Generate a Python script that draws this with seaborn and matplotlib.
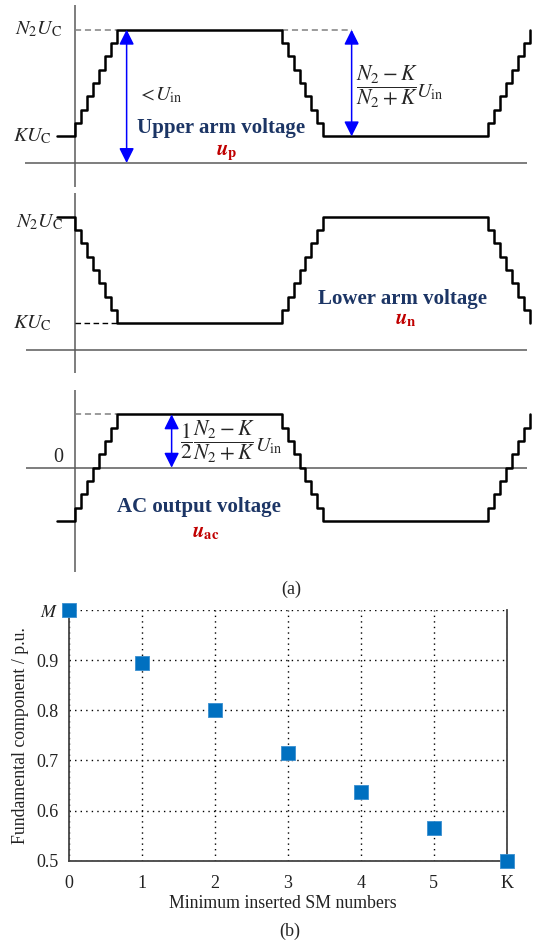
import matplotlib
matplotlib.use("Agg")
import matplotlib.pyplot as plt
import seaborn as sns
import pandas as pd

# ---------------- (a) staircase arm / output voltages ----------------
# switching instants (electrical degrees)
t_sw = [-15.7, 0, 5.2, 10.4, 15.6, 20.7, 25.9, 31.1, 36.3,
        180, 185.2, 190.4, 195.6, 200.7, 205.9, 211.1, 216.3,
        360, 365.2, 370.4, 375.6, 380.7, 385.9, 391.1, 396.3]
# number of inserted SMs above the minimum K
upper_steps = [0, 1, 2, 3, 4, 5, 6, 7, 8, 7, 6, 5, 4, 3, 2, 1, 0, 1, 2, 3, 4, 5, 6, 7, 8]
lower_steps = [8, 7, 6, 5, 4, 3, 2, 1, 0, 1, 2, 3, 4, 5, 6, 7, 8, 7, 6, 5, 4, 3, 2, 1, 0]
ac_steps = [-4, -3, -2, -1, 0, 1, 2, 3, 4, 3, 2, 1, 0, -1, -2, -3, -4, -3, -2, -1, 0, 1, 2, 3, 4]
K_level = 2      # K*U_C in SM-voltage units
N2_level = 10    # N2*U_C in SM-voltage units

# ---------------- (b) fundamental component ----------------
sm_min = [0, 1, 2, 3, 4, 5, 6]
sm_labels = ["0", "1", "2", "3", "4", "5", "K"]
fundamental = [1.0, 0.895, 0.80, 0.715, 0.637, 0.565, 0.5]
y_ticks = [0.5, 0.6, 0.7, 0.8, 0.9, 1.0]
y_labels = ["0.5", "0.6", "0.7", "0.8", "0.9", "$M$"]

sns.set_theme(style="white")
plt.rcParams["font.family"] = ["Liberation Serif", "DejaVu Serif"]
plt.rcParams["mathtext.fontset"] = "stix"

W, H = 536, 946
fig = plt.figure(figsize=(W / 100, H / 100), dpi=100)

NAVY = "#1C3565"
RED = "#C00000"
AXC = "#5a5a5a"
XL = (-65.3, 401.6)

upper_v = [K_level + s for s in upper_steps]
lower_v = [K_level + s for s in lower_steps]
df = pd.DataFrame({"t": t_sw, "up": upper_v, "low": lower_v, "ac": ac_steps})


def panel(top_px, bot_px):
    ax = fig.add_axes([0, 1 - bot_px / H, 1, (bot_px - top_px) / H])
    return ax


def finish(ax, ylim):
    ax.set_xlim(*XL)
    ax.set_ylim(*ylim)
    ax.axis("off")


def arrow(ax, x, y0, y1):
    ax.annotate("", xy=(x, y0), xytext=(x, y1),
                arrowprops=dict(arrowstyle="<|-|>,head_length=0.6,head_width=0.3",
                                color="#0000FF", lw=1.1, mutation_scale=15,
                                shrinkA=0, shrinkB=0))


def sub_label(ax, x, y, main, sub, size=15):
    ax.text(x, y, r"$\mathbfit{%s}_{\mathbf{%s}}$" % (main, sub), color=RED,
            ha="center", va="center", fontsize=size)


lab_kw = dict(fontsize=14.5, ha="right", va="center")
FR = 15.5
BOLD = 15
UIN = r"$U_\mathrm{in}$"

# ---- panel 1: upper arm ----
ax1 = panel(0, 190)
YL1 = (-2.025, 12.23)
ax1.vlines(0, -1.8, 11.85, color=AXC, lw=1.1)
ax1.hlines(0, -43.6, 393.7, color=AXC, lw=1.1)
ax1.hlines(N2_level, 0, 36.3, color="#808080", lw=1.1, linestyles=(0, (4, 2.5)))
ax1.hlines(N2_level, 180, 241, color="#808080", lw=1.1, linestyles=(0, (4, 2.5)))
sns.lineplot(data=df, x="t", y="up", drawstyle="steps-post", color="black", lw=1.8,
             estimator=None, sort=False, ax=ax1, legend=False)
finish(ax1, YL1)
arrow(ax1, 45, 0, N2_level)
arrow(ax1, 241, K_level, N2_level)
ax1.text(-11.3, N2_level, r"$N_2U_\mathrm{C}$", **lab_kw)
ax1.text(-20.0, K_level, r"$KU_\mathrm{C}$", **lab_kw)
ax1.text(54.5, 5.1, r"$<\!U_\mathrm{in}$", fontsize=14.5, ha="left", va="center")
ax1.text(244.5, 5.75, r"$\dfrac{N_2-K}{N_2+K}$", fontsize=FR, ha="left", va="center")
ax1.text(297.5, 5.3, UIN, fontsize=14.5, ha="left", va="center")
ax1.text(127.6, 2.63, "Upper arm voltage", color=NAVY, fontweight="bold",
         fontsize=BOLD, ha="center", va="center")
sub_label(ax1, 132, 0.75, "u", "p")

# ---- panel 2: lower arm ----
ax2 = panel(190, 375)
YL2 = (-1.875, 12.0)
ax2.vlines(0, -1.73, 11.78, color=AXC, lw=1.1)
ax2.hlines(0, -42.7, 393.7, color=AXC, lw=1.1)
ax2.hlines(K_level, 0, 36.3, color="black", lw=1.0, linestyles=(0, (4, 2.5)))
sns.lineplot(data=df, x="t", y="low", drawstyle="steps-post", color="black", lw=1.8,
             estimator=None, sort=False, ax=ax2, legend=False)
finish(ax2, YL2)
ax2.text(-10.0, N2_level - 0.4, r"$N_2U_\mathrm{C}$", **lab_kw)
ax2.text(-20.0, K_level, r"$KU_\mathrm{C}$", **lab_kw)
ax2.text(285.7, 3.83, "Lower arm voltage", color=NAVY, fontweight="bold",
         fontsize=BOLD, ha="center", va="center")
sub_label(ax2, 288, 2.3, "u", "n")

# ---- panel 3: AC output ----
ax3 = panel(375, 600)
YL3 = (-9.925, 6.954)
ax3.vlines(0, -7.8, 5.83, color=AXC, lw=1.1)
ax3.hlines(0, -42.7, 393.7, color=AXC, lw=1.1)
ax3.hlines(4, 0, 36.3, color="#808080", lw=1.1, linestyles=(0, (4, 2.5)))
sns.lineplot(data=df, x="t", y="ac", drawstyle="steps-post", color="black", lw=1.8,
             estimator=None, sort=False, ax=ax3, legend=False)
finish(ax3, YL3)
arrow(ax3, 84.2, 0, 4)
ax3.text(-10.5, 0.8, "0", fontsize=14.5, ha="right", va="center")
ax3.text(91.5, 1.95, r"$\dfrac{1}{2}\dfrac{N_2-K}{N_2+K}$", fontsize=FR,
         ha="left", va="center")
ax3.text(157.0, 1.57, UIN, fontsize=14.5, ha="left", va="center")
ax3.text(108, -2.93, "AC output voltage", color=NAVY, fontweight="bold",
         fontsize=BOLD, ha="center", va="center")
sub_label(ax3, 114, -4.9, "u", "ac")

fig.text(291 / W, 1 - 589 / H, "(a)", fontsize=13, ha="center", va="center")

# ---------------- (b) ----------------
axb = fig.add_axes([69.3 / W, 1 - 860.7 / H, 437.4 / W, 250.7 / H])
dfb = pd.DataFrame({"n": sm_min, "f": fundamental})
sns.scatterplot(data=dfb, x="n", y="f", marker="s", s=115, color="#0070C0",
                edgecolor="#3a8fd0", linewidth=0.6, ax=axb, clip_on=False, zorder=5,
                legend=False)
axb.set_xlim(0, 6)
axb.set_ylim(0.5, 1.0)
axb.set_xticks(sm_min)
axb.set_xticklabels(sm_labels)
axb.set_yticks(y_ticks)
axb.set_yticklabels(y_labels)
axb.grid(True, linestyle=(0, (1, 3)), color="black", lw=1.0)
axb.set_axisbelow(True)
axb.spines["top"].set_visible(False)
for s in ["left", "bottom", "right"]:
    axb.spines[s].set_color("#444444")
    axb.spines[s].set_linewidth(1.3)
axb.tick_params(length=0, labelsize=13, colors="#222222")
axb.tick_params(axis="x", pad=10)
axb.tick_params(axis="y", pad=8)
axb.set_xlabel("Minimum inserted SM numbers", fontsize=12.8, labelpad=1, color="#222222")
axb.xaxis.set_label_coords(0.487, -0.138)
axb.set_ylabel("Fundamental component / p.u.", fontsize=12.8, labelpad=5, color="#222222")
fig.text(290 / W, 1 - 931.7 / H, "(b)", fontsize=13, ha="center", va="center")

fig.savefig("out.png", dpi=100)
